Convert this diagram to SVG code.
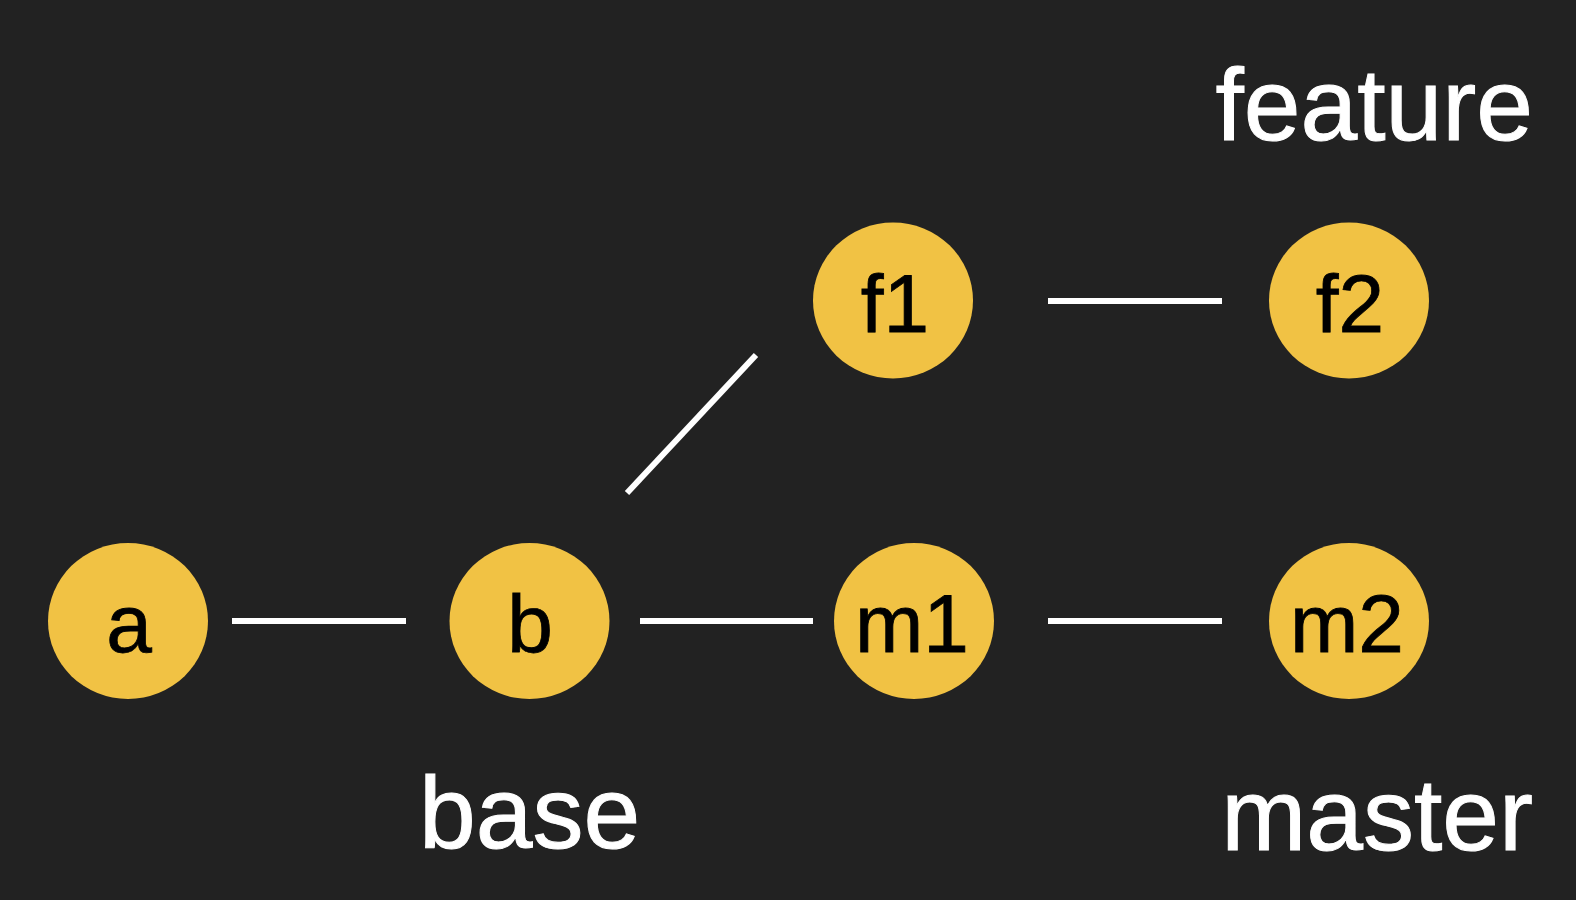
<svg xmlns="http://www.w3.org/2000/svg" width="1576" height="900" viewBox="0 0 1576 900">
<style>
.node{fill:#F1C244}
.nl{font-family:"Liberation Sans",Arial,sans-serif;font-size:82px;fill:#000;text-anchor:middle;stroke:#000;stroke-width:0.8}
.lbl{font-family:"Liberation Sans",Arial,sans-serif;font-size:102px;fill:#fff;stroke:#fff;stroke-width:1}
.edge{stroke:#fff;stroke-width:6;fill:none}
</style>
<rect width="1576" height="900" fill="#222222"/>
<g id="connectors">
<line class="edge" x1="232" y1="621" x2="406" y2="621"/>
<line class="edge" x1="640" y1="621" x2="813" y2="621"/>
<line class="edge" x1="1048" y1="621" x2="1222" y2="621"/>
<line class="edge" x1="1048" y1="301" x2="1222" y2="301"/>
<line class="edge" x1="627" y1="493" x2="756" y2="355"/>
</g>
<g id="node-a"><ellipse class="node" cx="128" cy="621" rx="80" ry="78"/><text class="nl" x="129" y="652">a</text></g>
<g id="node-b"><ellipse class="node" cx="529.5" cy="621" rx="80" ry="78"/><text class="nl" x="530" y="652">b</text></g>
<g id="node-m1"><ellipse class="node" cx="914" cy="621" rx="80" ry="78"/><text class="nl" x="912" y="652">m1</text></g>
<g id="node-m2"><ellipse class="node" cx="1349" cy="621" rx="80" ry="78"/><text class="nl" x="1347" y="652">m2</text></g>
<g id="node-f1"><ellipse class="node" cx="893" cy="300.5" rx="80" ry="78"/><text class="nl" x="895" y="332">f1</text></g>
<g id="node-f2"><ellipse class="node" cx="1349" cy="300.5" rx="80" ry="78"/><text class="nl" x="1350" y="332">f2</text></g>
<g id="labels">
<text class="lbl" x="1533" y="140" text-anchor="end">feature</text>
<text class="lbl" x="419" y="848">base</text>
<text class="lbl" x="1533" y="850" text-anchor="end">master</text>
</g>
</svg>
